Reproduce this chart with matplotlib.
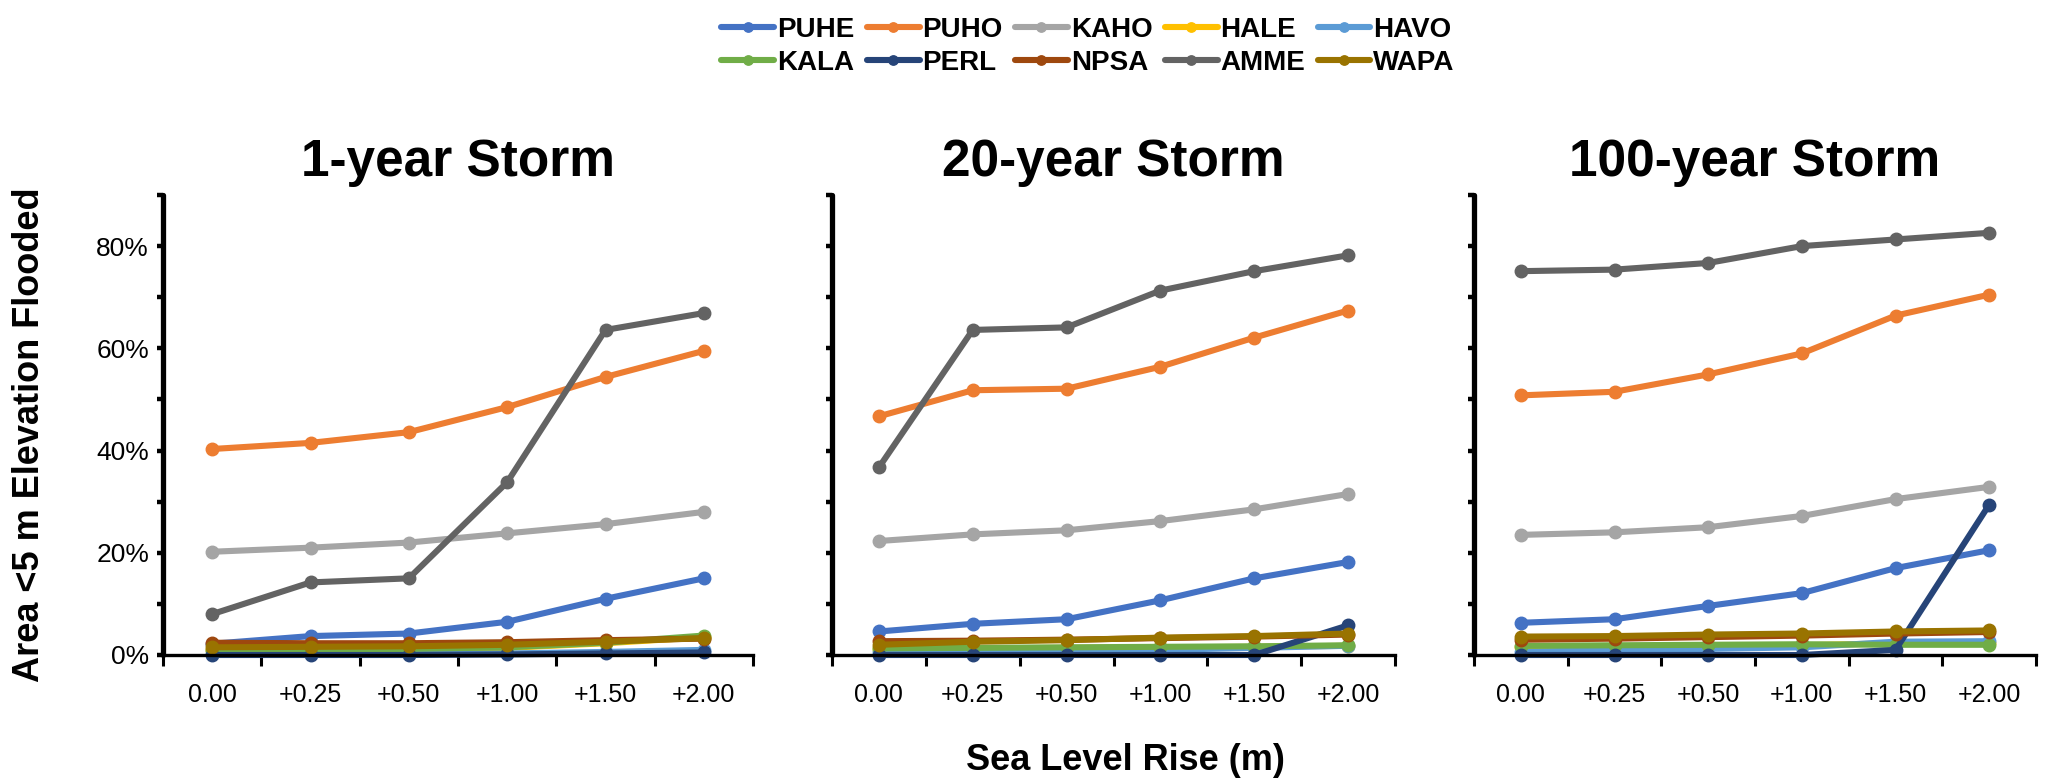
import numpy as np
import matplotlib
matplotlib.use('Agg')
import matplotlib.pyplot as plt
from matplotlib.ticker import FixedLocator, FuncFormatter

# sea level rise scenarios (x categories)
slr_labels = ['0.00', '+0.25', '+0.50', '+1.00', '+1.50', '+2.00']

sites = ['PUHE', 'PUHO', 'KAHO', 'HALE', 'HAVO', 'KALA', 'PERL', 'NPSA', 'AMME', 'WAPA']
colors = ['#4472C4', '#ED7D31', '#A5A5A5', '#FFC000', '#5B9BD5',
          '#70AD47', '#264478', '#9E480E', '#636363', '#997300']

storm_titles = ['1-year Storm', '20-year Storm', '100-year Storm']

# % of area below 5 m elevation that floods
storm_1yr = {
    'PUHE': [2.2, 3.7, 4.2, 6.5, 11.0, 15.0],
    'PUHO': [40.3, 41.5, 43.6, 48.5, 54.4, 59.5],
    'KAHO': [20.2, 21.0, 22.0, 23.8, 25.6, 28.0],
    'HALE': [0.9, 1.0, 1.1, 1.4, 2.3, 3.5],
    'HAVO': [0.1, 0.1, 0.2, 0.3, 0.6, 1.0],
    'KALA': [1.0, 1.1, 1.2, 1.5, 2.4, 3.8],
    'PERL': [0.0, 0.0, 0.0, 0.1, 0.3, 0.5],
    'NPSA': [2.4, 2.3, 2.3, 2.5, 2.9, 3.2],
    'AMME': [8.0, 14.2, 15.0, 33.8, 63.6, 66.9],
    'WAPA': [1.5, 1.6, 1.7, 2.0, 2.6, 3.3],
}
storm_20yr = {
    'PUHE': [4.6, 6.1, 7.0, 10.7, 15.0, 18.2],
    'PUHO': [46.7, 51.8, 52.1, 56.4, 62.1, 67.4],
    'KAHO': [22.3, 23.6, 24.4, 26.2, 28.5, 31.5],
    'HALE': [1.2, 1.3, 1.4, 1.5, 1.6, 1.8],
    'HAVO': [0.6, 0.7, 0.8, 1.0, 1.4, 1.8],
    'KALA': [1.3, 1.4, 1.5, 1.6, 1.7, 1.9],
    'PERL': [0.0, 0.0, 0.0, 0.0, 0.0, 5.8],
    'NPSA': [2.7, 2.8, 3.0, 3.3, 3.6, 4.0],
    'AMME': [36.7, 63.6, 64.1, 71.3, 75.1, 78.2],
    'WAPA': [2.0, 2.6, 2.9, 3.4, 3.7, 4.2],
}
storm_100yr = {
    'PUHE': [6.3, 7.0, 9.6, 12.1, 17.0, 20.5],
    'PUHO': [50.8, 51.5, 54.9, 59.0, 66.4, 70.5],
    'KAHO': [23.5, 24.0, 25.0, 27.2, 30.5, 32.9],
    'HALE': [1.6, 1.7, 1.8, 1.9, 2.3, 2.4],
    'HAVO': [0.6, 1.0, 1.2, 1.5, 2.6, 2.7],
    'KALA': [1.8, 1.9, 2.0, 2.1, 2.0, 2.0],
    'PERL': [0.0, 0.0, 0.0, 0.0, 1.0, 29.4],
    'NPSA': [3.0, 3.2, 3.5, 3.8, 4.2, 4.5],
    'AMME': [75.1, 75.4, 76.7, 80.0, 81.3, 82.6],
    'WAPA': [3.6, 3.7, 4.0, 4.2, 4.6, 4.8],
}
storms = [storm_1yr, storm_20yr, storm_100yr]

plt.rcParams['font.family'] = ['Liberation Sans', 'DejaVu Sans']

W, H = 2053, 779
fig = plt.figure(figsize=(W / 100, H / 100), dpi=100)

# axes boxes in pixels: left, width
boxes = [(163, 590), (832, 563), (1474, 562)]
y0, y1 = 655, 195

x = np.arange(len(slr_labels))
axes = []
for i, (left, width) in enumerate(boxes):
    ax = fig.add_axes([left / W, 1 - y0 / H, width / W, (y0 - y1) / H])
    axes.append(ax)
    data = storms[i]
    for s, c in zip(sites, colors):
        ax.plot(x, np.array(data[s]) / 100, '-o', color=c, lw=4.4, ms=9,
                label=s, solid_capstyle='round', clip_on=False)
    ax.set_xlim(-0.5, 5.5)
    ax.set_ylim(0, 0.9)
    ax.set_xticks(x)
    ax.set_xticklabels(slr_labels, fontsize=18)
    ax.tick_params(axis='x', which='major', length=0, pad=20)
    ax.xaxis.set_minor_locator(FixedLocator(np.arange(-0.5, 6, 1)))
    ax.tick_params(axis='x', which='minor', length=8, width=2.2, direction='out')
    ax.set_yticks(np.arange(0, 0.91, 0.1))
    ax.tick_params(axis='y', length=4, width=3.2, direction='out', pad=6)
    if i == 0:
        ax.yaxis.set_major_formatter(FuncFormatter(
            lambda v, p: '%d%%' % round(v * 100) if round(v * 100) % 20 == 0 and v < 0.85 else ''))
        ax.tick_params(axis='y', labelsize=19)
    else:
        ax.set_yticklabels([])
    for side in ['top', 'right']:
        ax.spines[side].set_visible(False)
    ax.spines['left'].set_linewidth(3.8)
    ax.spines['left'].set_capstyle('round')
    ax.spines['bottom'].set_linewidth(2.4)
    ax.set_title(storm_titles[i], fontsize=37, fontweight='bold', pad=14)
    ax.patch.set_alpha(0)

fig.text(30 / W, 1 - 435 / H, 'Area <5 m Elevation Flooded', rotation=90,
         ha='center', va='center', fontsize=26, fontweight='bold')
fig.text(1125 / W, 1 - 761 / H, 'Sea Level Rise (m)', ha='center', va='center',
         fontsize=26, fontweight='bold')

# legend fills row by row in the reference
handles, labels = axes[0].get_legend_handles_labels()
order = [0, 5, 1, 6, 2, 7, 3, 8, 4, 9]
fig.legend([handles[k] for k in order], [labels[k] for k in order], ncol=5,
           loc='upper center', bbox_to_anchor=(1088 / W, 1.01),
           frameon=False, handlelength=1.9, handletextpad=0.1,
           columnspacing=0.45, labelspacing=0.25, markerscale=0.75,
           prop={'weight': 'bold', 'size': 20})

fig.savefig('out.png', dpi=100)
